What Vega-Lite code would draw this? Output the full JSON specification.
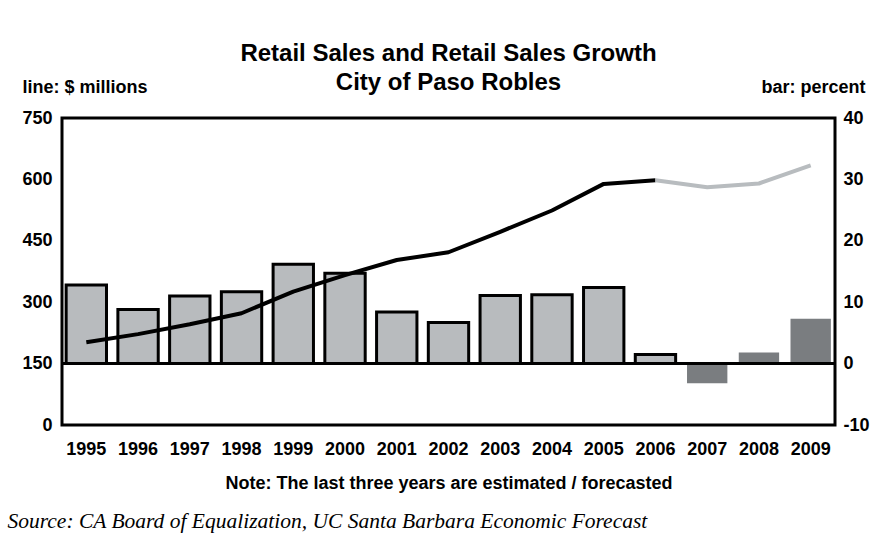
{
  "$schema": "https://vega.github.io/schema/vega-lite/v6.json",
  "autosize": "none",
  "width": 773,
  "height": 307,
  "padding": {"left": 62, "top": 118, "right": 54, "bottom": 110},
  "background": "white",
  "config": {
    "view": {"stroke": "black", "strokeWidth": 3},
    "font": "Liberation Sans",
    "axis": {
      "labelFont": "Liberation Sans",
      "labelFontSize": 18,
      "labelFontWeight": "bold",
      "labelColor": "black",
      "titleFont": "Liberation Sans",
      "titleFontSize": 18,
      "titleFontWeight": "bold",
      "titleColor": "black",
      "ticks": false,
      "domain": false,
      "grid": false
    }
  },
  "title": {
    "text": ["Retail Sales and Retail Sales Growth", "City of Paso Robles"],
    "fontSize": 24,
    "fontWeight": "bold",
    "font": "Liberation Sans",
    "color": "black",
    "lineHeight": 29,
    "anchor": "middle",
    "offset": -17
  },
  "datasets": {
    "growth": [
      {"year": "1995", "growth": 12.8, "type": "actual"},
      {"year": "1996", "growth": 8.8, "type": "actual"},
      {"year": "1997", "growth": 11.0, "type": "actual"},
      {"year": "1998", "growth": 11.7, "type": "actual"},
      {"year": "1999", "growth": 16.2, "type": "actual"},
      {"year": "2000", "growth": 14.7, "type": "actual"},
      {"year": "2001", "growth": 8.4, "type": "actual"},
      {"year": "2002", "growth": 6.7, "type": "actual"},
      {"year": "2003", "growth": 11.1, "type": "actual"},
      {"year": "2004", "growth": 11.2, "type": "actual"},
      {"year": "2005", "growth": 12.4, "type": "actual"},
      {"year": "2006", "growth": 1.5, "type": "actual"},
      {"year": "2007", "growth": -3.2, "type": "forecast"},
      {"year": "2008", "growth": 1.8, "type": "forecast"},
      {"year": "2009", "growth": 7.3, "type": "forecast"}
    ],
    "sales": [
      {"year": "1995", "sales": 202, "segment": "actual"},
      {"year": "1996", "sales": 222, "segment": "actual"},
      {"year": "1997", "sales": 246, "segment": "actual"},
      {"year": "1998", "sales": 273, "segment": "actual"},
      {"year": "1999", "sales": 326, "segment": "actual"},
      {"year": "2000", "sales": 366, "segment": "actual"},
      {"year": "2001", "sales": 403, "segment": "actual"},
      {"year": "2002", "sales": 422, "segment": "actual"},
      {"year": "2003", "sales": 472, "segment": "actual"},
      {"year": "2004", "sales": 524, "segment": "actual"},
      {"year": "2005", "sales": 589, "segment": "actual"},
      {"year": "2006", "sales": 598, "segment": "actual"},
      {"year": "2006", "sales": 598, "segment": "forecast"},
      {"year": "2007", "sales": 581, "segment": "forecast"},
      {"year": "2008", "sales": 590, "segment": "forecast"},
      {"year": "2009", "sales": 634, "segment": "forecast"}
    ]
  },
  "layer": [
    {
      "data": {"name": "growth"},
      "mark": {"type": "bar", "stroke": "black"},
      "encoding": {
        "x": {
          "field": "year",
          "type": "nominal",
          "sort": null,
          "scale": {"paddingInner": 0.22, "paddingOuter": 0.08},
          "axis": {
            "orient": "bottom",
            "labelAngle": 0,
            "labelPadding": 15,
            "title": "Note: The last three years are estimated / forecasted",
            "titleY": 63,
            "titleBaseline": "alphabetic"
          }
        },
        "y": {
          "field": "growth",
          "type": "quantitative",
          "scale": {"domain": [-10, 40], "nice": false, "zero": false},
          "axis": {
            "orient": "right",
            "values": [-10, 0, 10, 20, 30, 40],
            "labelExpr": "replace(datum.label, '\u2212', '-')",
            "labelPadding": 8,
            "title": "bar: percent",
            "titleAngle": 0,
            "titleX": 30,
            "titleY": -26,
            "titleAlign": "right",
            "titleBaseline": "alphabetic"
          }
        },
        "fill": {
          "field": "type",
          "type": "nominal",
          "scale": {"domain": ["actual", "forecast"], "range": ["#b8bbbe", "#7a7d80"]},
          "legend": null
        },
        "strokeWidth": {
          "field": "type",
          "type": "nominal",
          "scale": {"domain": ["actual", "forecast"], "range": [3, 0]},
          "legend": null
        }
      }
    },
    {
      "data": {"name": "growth"},
      "mark": {"type": "rule", "color": "black", "strokeWidth": 3},
      "encoding": {
        "y": {
          "datum": 0,
          "type": "quantitative",
          "scale": {"domain": [-10, 40], "nice": false, "zero": false},
          "axis": null
        }
      }
    },
    {
      "data": {"name": "sales"},
      "mark": {"type": "line", "strokeWidth": 4, "strokeJoin": "round"},
      "encoding": {
        "x": {
          "field": "year",
          "type": "nominal",
          "sort": null,
          "axis": {
            "orient": "bottom",
            "labels": false,
            "title": "Source: CA Board of Equalization, UC Santa Barbara Economic Forecast",
            "titleFont": "Liberation Serif",
            "titleFontStyle": "italic",
            "titleFontWeight": "normal",
            "titleFontSize": 21.5,
            "titleAnchor": "start",
            "titleAlign": "left",
            "titleX": -55,
            "titleY": 102,
            "titleBaseline": "alphabetic"
          }
        },
        "y": {
          "field": "sales",
          "type": "quantitative",
          "scale": {"domain": [0, 750], "nice": false},
          "axis": {
            "orient": "left",
            "values": [0, 150, 300, 450, 600, 750],
            "labelPadding": 10,
            "title": "line: $ millions",
            "titleAngle": 0,
            "titleX": -40,
            "titleY": -26,
            "titleAlign": "left",
            "titleBaseline": "alphabetic"
          }
        },
        "color": {
          "field": "segment",
          "type": "nominal",
          "scale": {"domain": ["actual", "forecast"], "range": ["black", "#b8bcbf"]},
          "legend": null
        }
      }
    }
  ],
  "resolve": {"scale": {"y": "independent"}, "axis": {"x": "independent", "y": "independent"}}
}
